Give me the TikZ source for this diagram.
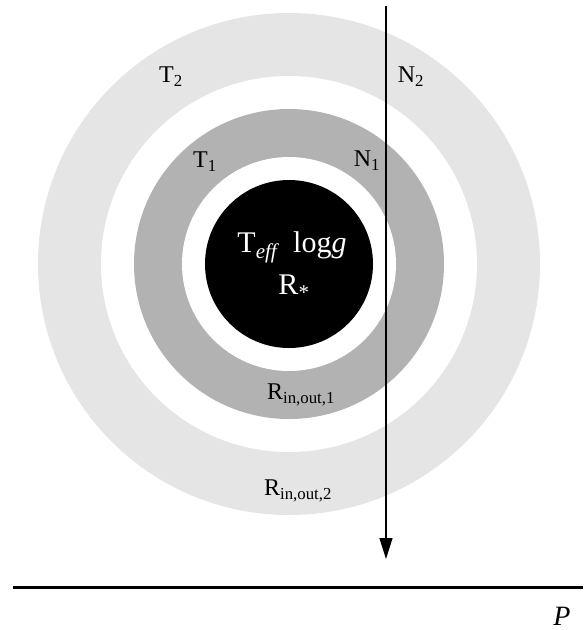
\documentclass[tikz,border=0pt]{standalone}
\usepackage{fontspec}
\setmainfont{Liberation Serif}
\usetikzlibrary{arrows.meta}
\definecolor{ringlight}{gray}{0.90}
\definecolor{ringmid}{gray}{0.70}

\begin{document}
\begin{tikzpicture}[x=1pt,y=-1pt,>={Triangle[length=21pt,width=13pt]},
  every node/.style={font=\fontsize{24}{26}\selectfont,inner sep=0pt},
  starlabel/.style={white,font=\fontsize{30}{32}\selectfont}]
\useasboundingbox (0,0) rectangle (584,630);
\coordinate (c) at (289,264);
% shells, from the outside in
\foreach \r/\col in {251/ringlight,188/white,155/ringmid,107/white,84/black}
  { \fill[\col] (c) circle (\r); }
\node (t2) at (171,77) {T\textsubscript{2}};
\node (n2) at (411,77) {N\textsubscript{2}};
\node (t1) at (205,162) {T\textsubscript{1}};
\node (n1) at (367,161) {N\textsubscript{1}};
\node[starlabel] (teff) at (292,247) {T\textsubscript{\textit{eff}}\hspace{0.45em}log\textit{g}};
\node[starlabel] (rstar) at (294,287) {R\textsubscript{*}};
\node (rio1) at (301,395) {R\textsubscript{in,out,1}};
\node (rio2) at (298,491) {R\textsubscript{in,out,2}};
\node[font=\fontsize{28}{30}\selectfont] (p) at (562,616) {\textit{P}};
% line of sight and plane
\coordinate (los) at (386,6);
\coordinate (tip) at (386,559);
\draw[line width=1.3pt,->] (los) -- (tip);
\coordinate (pl) at (13,587);
\coordinate (pr) at (583,587);
\draw[line width=3pt] (pl) -- (pr);
\end{tikzpicture}
\end{document}
